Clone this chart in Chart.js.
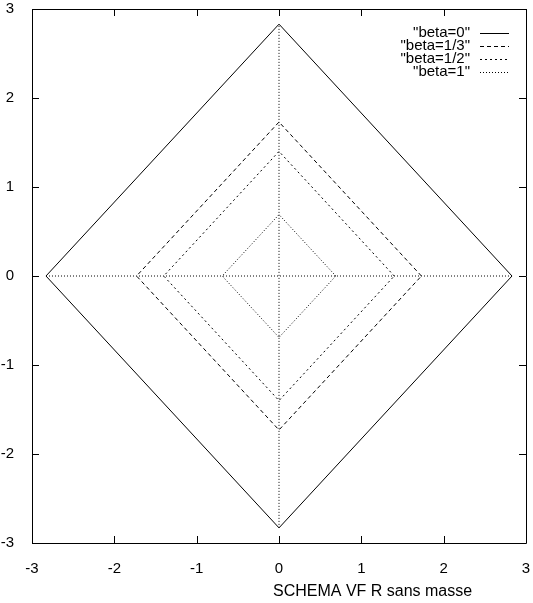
<!DOCTYPE html>
<html>
<head>
<meta charset="utf-8">
<script src="https://cdn.jsdelivr.net/npm/chart.js@4.4.1/dist/chart.umd.min.js"></script>
<style>
  html, body { margin: 0; padding: 0; background: #fff; }
  #wrap { width: 533px; height: 603px; position: relative; }
</style>
</head>
<body>
<div id="wrap"><canvas id="c"></canvas></div>
<script>
// Series labels
const seriesLabels = ['"beta=0"', '"beta=1/3"', '"beta=1/2"', '"beta=1"'];

// Vertex coordinates of each closed diamond (null separates pieces)
const beta0X = [2.83, 0, -2.83, 0, 2.83];
const beta0Y = [0, 2.83, 0, -2.83, 0];

const beta13X = [1.73, 0, -1.73, 0, 1.73];
const beta13Y = [0, 1.73, 0, -1.73, 0];

const beta12X = [1.40, 0, -1.40, 0, 1.40];
const beta12Y = [0, 1.40, 0, -1.40, 0];

// beta=1: small diamond plus the two axis segments
const beta1X = [0.69, 0, -0.69, 0, 0.69, null, -2.83, 2.83, null, 0, 0];
const beta1Y = [0, 0.69, 0, -0.69, 0, null, 0, 0, null, -2.83, 2.83];

// Axis ticks
const xTicks = [-3, -2, -1, 0, 1, 2, 3];
const yTicks = [-3, -2, -1, 0, 1, 2, 3];

const axisTitle = 'SCHEMA VF R sans masse';

const FONT = 'Liberation Sans, Arial, Helvetica, sans-serif';
const FSIZE = 15;

function pts(xs, ys) {
  return xs.map((x, i) => (x === null ? { x: null, y: null } : { x: x, y: ys[i] }));
}

const dashes = [[], [4, 3], [2, 3], [1, 2]];
const seriesX = [beta0X, beta13X, beta12X, beta1X];
const seriesY = [beta0Y, beta13Y, beta12Y, beta1Y];

const datasets = seriesLabels.map((lab, i) => ({
  label: lab,
  data: pts(seriesX[i], seriesY[i]),
  showLine: true,
  spanGaps: false,
  borderColor: '#000',
  borderWidth: 1,
  borderDash: dashes[i],
  pointRadius: 0,
  pointHoverRadius: 0,
  fill: false,
  tension: 0
}));

// Frame, inward tick marks, legend and x caption
const framePlugin = {
  id: 'frame',
  afterDatasetsDraw(chart) {
    const ctx = chart.ctx;
    const a = chart.chartArea;
    const xs = chart.scales.x, ys = chart.scales.y;
    ctx.save();
    ctx.strokeStyle = '#000';
    ctx.lineWidth = 1;
    ctx.setLineDash([]);
    ctx.beginPath();
    ctx.rect(Math.round(a.left) + 0.5, Math.round(a.top) + 0.5,
             Math.round(a.right - a.left), Math.round(a.bottom - a.top));
    ctx.stroke();
    const tl = 7;
    ctx.beginPath();
    xTicks.forEach(v => {
      const px = Math.round(xs.getPixelForValue(v)) + 0.5;
      ctx.moveTo(px, a.bottom); ctx.lineTo(px, a.bottom - tl);
      ctx.moveTo(px, a.top); ctx.lineTo(px, a.top + tl);
    });
    yTicks.forEach(v => {
      const py = Math.round(ys.getPixelForValue(v)) + 0.5;
      ctx.moveTo(a.left, py); ctx.lineTo(a.left + tl, py);
      ctx.moveTo(a.right, py); ctx.lineTo(a.right - tl, py);
    });
    ctx.stroke();

    // legend, top right inside the plot
    ctx.font = FSIZE + 'px ' + FONT;
    ctx.fillStyle = '#000';
    ctx.textAlign = 'right';
    ctx.textBaseline = 'middle';
    const textRight = 470, lineL = 480, lineR = 509;
    const rowY = [33, 46, 59, 72];
    chart.data.datasets.forEach((ds, i) => {
      const y = rowY[i];
      ctx.fillText(ds.label, textRight, y);
      ctx.beginPath();
      ctx.setLineDash(ds.borderDash);
      ctx.moveTo(lineL, Math.round(y) + 0.5);
      ctx.lineTo(lineR, Math.round(y) + 0.5);
      ctx.stroke();
    });
    ctx.setLineDash([]);

    // caption under the x axis
    ctx.font = '16px ' + FONT;
    ctx.textAlign = 'left';
    ctx.textBaseline = 'alphabetic';
    ctx.fillText(axisTitle, 273, 596);
    ctx.restore();
  }
};

new Chart(document.getElementById('c'), {
  type: 'scatter',
  data: { datasets: datasets },
  options: {
    responsive: true,
    maintainAspectRatio: false,
    animation: false,
    events: [],
    layout: { padding: { top: 9, right: 7, left: 0, bottom: 0 } },
    plugins: { legend: { display: false }, tooltip: { enabled: false }, title: { display: false } },
    scales: {
      x: {
        type: 'linear', min: -3, max: 3,
        afterBuildTicks(s) { s.ticks = xTicks.map(v => ({ value: v })); },
        afterFit(s) { s.height = 60; s.paddingLeft = 0; s.paddingRight = 0; },
        grid: { display: false },
        border: { display: false },
        ticks: { color: '#000', font: { family: FONT, size: FSIZE }, padding: 9, maxRotation: 0 }
      },
      y: {
        type: 'linear', min: -3, max: 3,
        afterBuildTicks(s) { s.ticks = yTicks.map(v => ({ value: v })); },
        afterFit(s) { s.width = 32; s.paddingTop = 0; s.paddingBottom = 0; },
        grid: { display: false },
        border: { display: false },
        ticks: { color: '#000', font: { family: FONT, size: FSIZE }, padding: 10 }
      }
    }
  },
  plugins: [framePlugin]
});
</script>
</body>
</html>
